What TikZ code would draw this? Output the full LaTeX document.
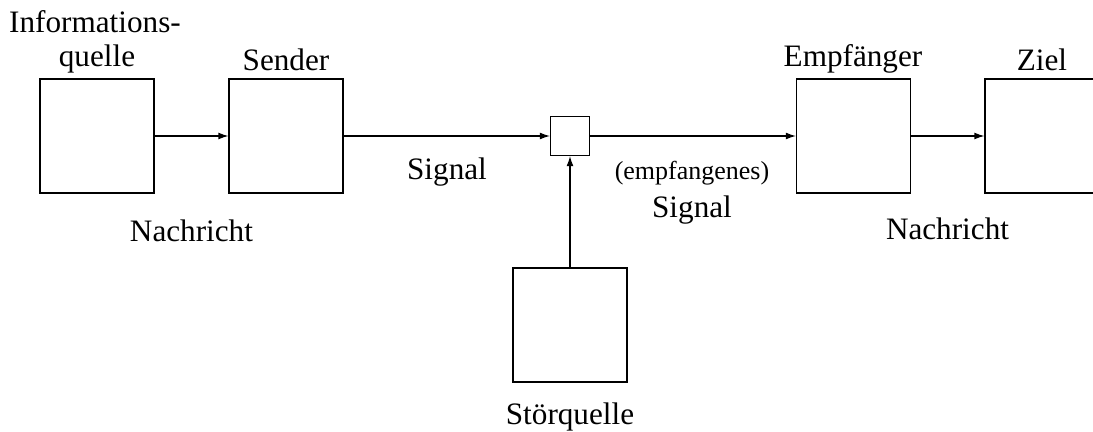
\documentclass[tikz,border=0pt]{standalone}
\usepackage{fontspec}
\setmainfont{Liberation Serif}
\usetikzlibrary{arrows.meta}
\begin{document}
\begin{tikzpicture}[x=0.5pt,y=-0.5pt,
  blk/.style={draw,line width=0.55pt,minimum size=57pt,inner sep=0pt},
  mix/.style={draw,line width=0.55pt,minimum size=19.5pt,inner sep=0pt},
  con/.style={line width=0.55pt,-{Latex[length=5pt,width=3.4pt]}},
  lbl/.style={anchor=base,inner sep=0pt,font=\fontsize{15.6}{17}\selectfont},
  slbl/.style={anchor=base,inner sep=0pt,font=\fontsize{13}{15}\selectfont}]
\useasboundingbox (0,0) rectangle (1093,432);
\clip (0,0) rectangle (1093,432);
\node[blk] (src) at (97,136) {};
\node[blk] (snd) at (286,136) {};
\node[mix] (mx) at (570,136) {};
\node[blk] (rcv) at (853.5,136) {};
\node[blk] (dst) at (1042,136) {};
\node[blk] (noise) at (570,325) {};
\draw[con] (src) -- (snd);
\draw[con] (snd) -- (mx);
\draw[con] (mx) -- (rcv);
\draw[con] (rcv) -- (dst);
\draw[con] (noise) -- (mx);
\node[lbl] (t1) at (95,33) {Informations-};
\node[lbl] (t2) at (97,67) {quelle};
\node[lbl] (t3) at (286,71) {Sender};
\node[lbl] (t4) at (853,67) {Empfänger};
\node[lbl] (t5) at (1042,71) {Ziel};
\node[lbl] (t6) at (191.5,242) {Nachricht};
\node[lbl] (t7) at (947.5,240) {Nachricht};
\node[lbl] (t8) at (447,180) {Signal};
\node[slbl] (t9) at (692,180) {(empfangenes)};
\node[lbl] (t10) at (692,218) {Signal};
\node[lbl] (t11) at (570,425) {Störquelle};
\end{tikzpicture}
\end{document}
